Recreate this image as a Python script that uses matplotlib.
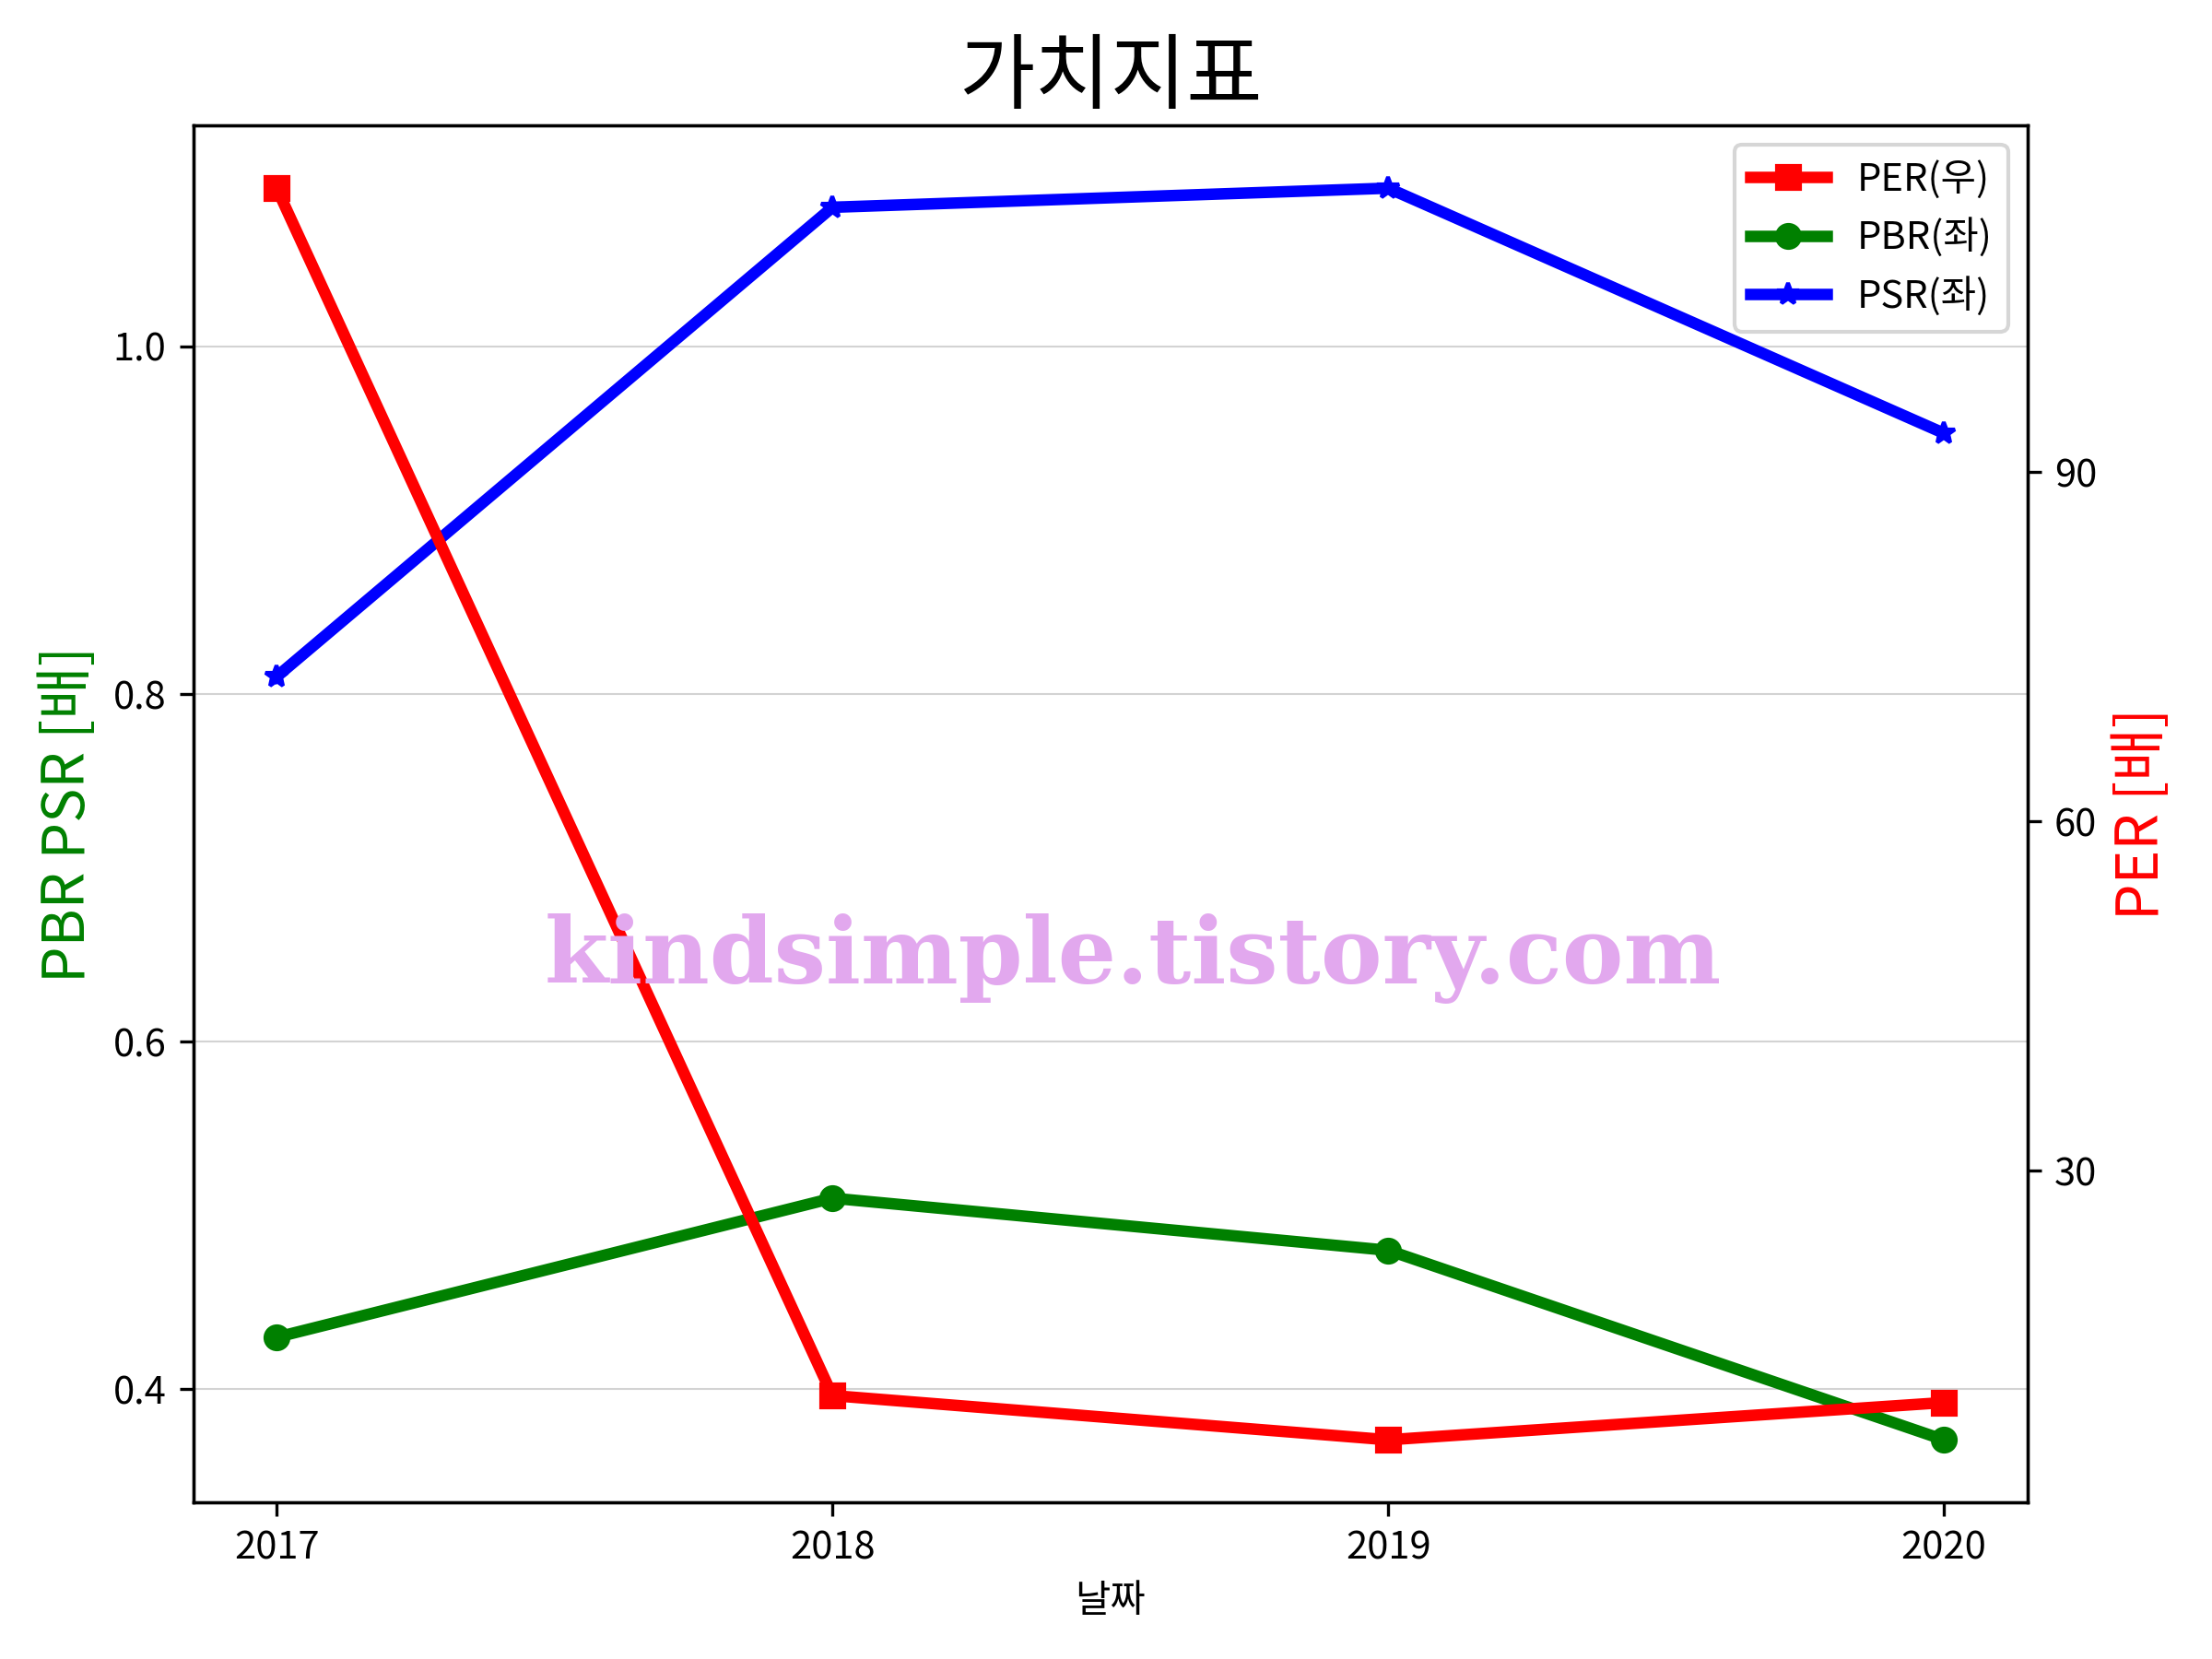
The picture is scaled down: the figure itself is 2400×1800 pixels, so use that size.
import matplotlib
matplotlib.use("Agg")
import matplotlib.pyplot as plt

plt.rcParams['font.family'] = ['Noto Sans CJK KR', 'DejaVu Sans']
plt.rcParams['axes.unicode_minus'] = False

years = [2017, 2018, 2019, 2020]
per = [114.4, 10.7, 6.9, 10.1]
pbr = [0.430, 0.510, 0.480, 0.371]
psr = [0.810, 1.080, 1.091, 0.950]

left_ticks = [0.4, 0.6, 0.8, 1.0]
right_ticks = [30, 60, 90]

title = "가치지표"
xlabel = "날짜"
left_label = "PBR PSR [배]"
right_label = "PER [배]"
watermark = "kindsimple.tistory.com"

fig, ax1 = plt.subplots(figsize=(8, 6), dpi=300)
fig.subplots_adjust(left=0.0874, right=0.9165, bottom=0.0944, top=0.9243)
ax2 = ax1.twinx()

l1, = ax2.plot(years, per, color='red', marker='s', linewidth=3, label='PER(우)')
l2, = ax1.plot(years, pbr, color='green', marker='o', linewidth=3, label='PBR(좌)')
l3, = ax1.plot(years, psr, color='blue', marker='*', linewidth=3, label='PSR(좌)')

ax1.grid(axis='y', color='lightgray', linewidth=0.5)
ax1.set_xticks(years)
ax1.set_xticklabels([str(y) for y in years])
ax1.set_yticks(left_ticks)
ax1.set_xlabel(xlabel, fontsize=10)
ax1.set_ylabel(left_label, color='green', fontsize=15)
ax2.set_ylabel(right_label, color='red', fontsize=15)
ax2.set_yticks(right_ticks)
ax1.set_title(title, fontsize=21.5)

ax2.legend(handles=[l1, l2, l3], loc='upper right', fontsize=10)

fig.text(0.512, 0.422, watermark, ha='center', va='center',
         fontsize=24, fontweight='bold', family='DejaVu Serif',
         color='#E2A8EE', zorder=10)

fig.savefig('out.png', dpi=300)
